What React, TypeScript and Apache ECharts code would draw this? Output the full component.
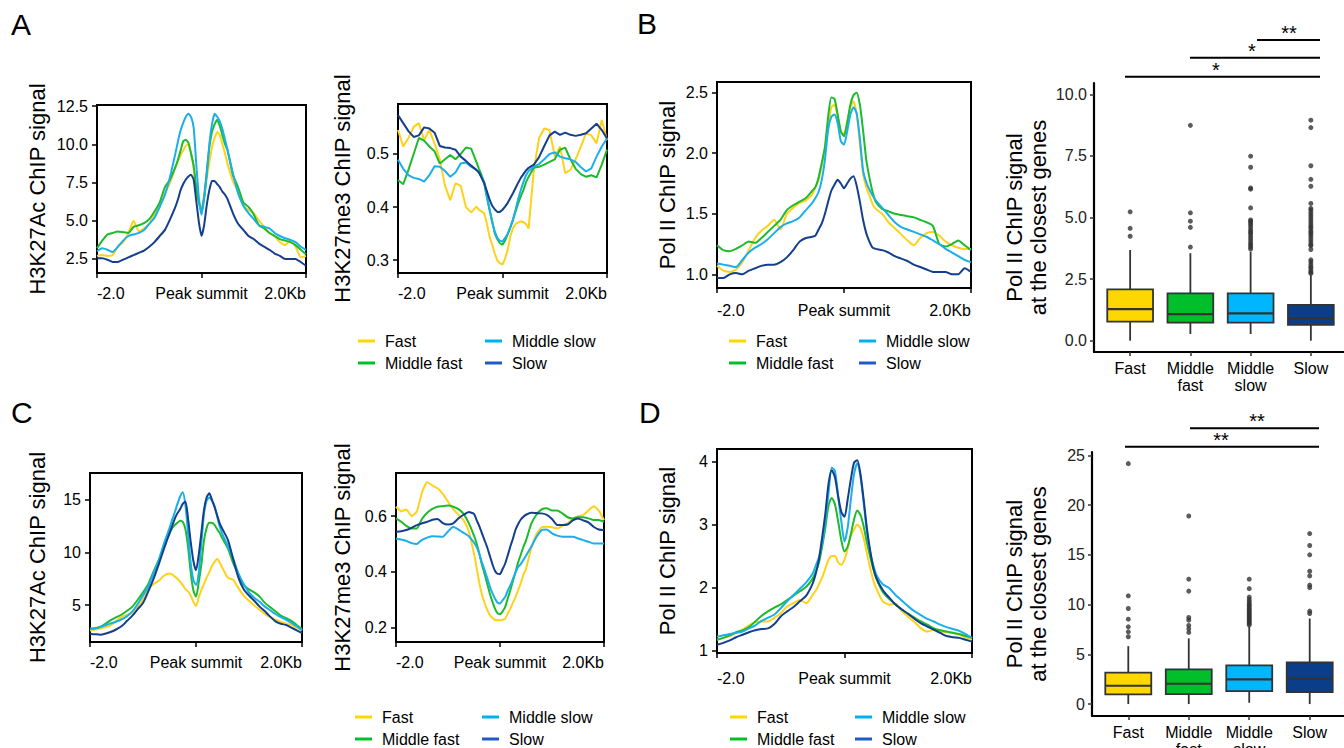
import React, { useEffect, useRef } from 'react';
import * as echarts from 'echarts';

const FONT = '"Liberation Sans", Arial, Helvetica, sans-serif';

const GROUPS = ['Fast', 'Middle fast', 'Middle slow', 'Slow'];
const LINE_COLORS = ['#FFD21A', '#1DBB2C', '#1AAFEA', '#143F8C'];
const LEGEND_COLORS = ['#FFD700', '#00C02A', '#00B0F0', '#1F5BC8'];
const BOX_COLORS = ['#FFD700', '#00BF2B', '#00B7FF', '#0A3D8A'];
const BOX_LABELS = ['Fast', 'Middle\nfast', 'Middle\nslow', 'Slow'];

// distance from peak summit (kb)
const POS_KB = [-2.0, -1.9, -1.8, -1.7, -1.6, -1.5, -1.4, -1.3, -1.2, -1.1, -1.0, -0.9, -0.8, -0.7, -0.6,
  -0.5, -0.45, -0.4, -0.35, -0.3, -0.25, -0.2, -0.15, -0.1, -0.05, 0, 0.05, 0.1, 0.15, 0.2, 0.25, 0.3, 0.35, 0.4, 0.45, 0.5,
  0.6, 0.7, 0.8, 0.9, 1.0, 1.1, 1.2, 1.3, 1.4, 1.5, 1.6, 1.7, 1.8, 1.9, 2.0];

// Panel A: H3K27Ac
const A_AC_FAST = [2.7, 2.75, 2.7, 2.75, 3.3, 3.6, 4.2, 5.0, 4.3, 4.5, 4.8, 5.4, 6.0, 6.8, 7.5,
  8.5, 8.9, 9.3, 9.6, 9.9, 10.0, 9.4, 8.4, 7.0, 6.2, 5.8, 6.5, 7.8, 8.8, 9.8, 10.4, 10.8, 10.6, 10.0, 9.4, 8.7,
  7.6, 6.9, 6.0, 5.7, 5.5, 5.0, 4.6, 4.2, 4.0, 3.6, 3.4, 3.75, 3.3, 2.6, 2.7];
const A_AC_MFAST = [3.2, 3.7, 4.1, 4.2, 4.3, 4.25, 4.2, 4.6, 4.7, 4.85, 5.1, 5.6, 6.2, 7.2, 7.7,
  8.5, 9.0, 9.6, 10.2, 10.3, 10.1, 9.4, 8.6, 7.2, 6.2, 5.6, 6.6, 8.2, 9.8, 10.8, 11.3, 11.6, 11.2, 10.6, 10.0, 9.6,
  8.0, 7.2, 6.2, 5.9, 5.4, 4.7, 4.5, 4.2, 4.0, 3.8, 3.7, 3.6, 3.4, 3.1, 2.8];
const A_AC_MSLOW = [3.0, 3.2, 3.1, 2.95, 3.3, 3.7, 4.0, 4.1, 4.2, 4.4, 4.8, 5.2, 5.9, 6.7, 7.9,
  9.4, 10.2, 10.9, 11.4, 11.8, 12.0, 11.8, 11.1, 8.7, 6.5, 5.4, 6.4, 8.0, 10.0, 11.3, 12.0, 11.8, 11.5, 11.0, 10.3, 9.6,
  8.1, 6.8, 6.0, 5.5, 5.1, 4.7, 4.6, 4.5, 4.2, 4.0, 3.85, 3.75, 3.6, 3.3, 3.1];
const A_AC_SLOW = [2.55, 2.55, 2.45, 2.3, 2.3, 2.45, 2.6, 2.75, 2.9, 3.05, 3.3, 3.6, 4.0, 4.4, 5.1,
  5.9, 6.4, 7.0, 7.4, 7.7, 7.9, 8.0, 7.7, 6.3, 4.9, 4.0, 4.7, 6.0, 7.0, 7.6, 7.6, 7.4, 7.2, 6.9, 6.7, 6.4,
  5.5, 4.8, 4.4, 4.0, 3.8, 3.5, 3.3, 3.1, 2.85, 2.7, 2.5, 2.5, 2.5, 2.3, 2.05];

// Panel A: H3K27me3
const A_ME3_FAST = [0.545, 0.514, 0.53, 0.551, 0.558, 0.526, 0.545, 0.52, 0.49, 0.44, 0.413, 0.445, 0.44, 0.4, 0.39,
  0.401, 0.395, 0.392, 0.388, 0.37, 0.345, 0.33, 0.313, 0.3, 0.294, 0.292, 0.303, 0.32, 0.345, 0.36, 0.368, 0.371, 0.373, 0.372, 0.368, 0.36,
  0.47, 0.53, 0.548, 0.545, 0.495, 0.514, 0.464, 0.47, 0.49, 0.514, 0.539, 0.535, 0.52, 0.564, 0.526];
const A_ME3_MFAST = [0.451, 0.443, 0.47, 0.5, 0.53, 0.525, 0.514, 0.505, 0.482, 0.49, 0.498, 0.49, 0.5, 0.512, 0.51,
  0.485, 0.472, 0.46, 0.445, 0.42, 0.395, 0.375, 0.351, 0.34, 0.332, 0.329, 0.337, 0.349, 0.362, 0.376, 0.392, 0.407, 0.42, 0.432, 0.447, 0.457,
  0.474, 0.476, 0.48, 0.485, 0.49, 0.508, 0.512, 0.49, 0.472, 0.462, 0.457, 0.46, 0.456, 0.48, 0.508];
const A_ME3_MSLOW = [0.489, 0.472, 0.46, 0.455, 0.453, 0.448, 0.46, 0.477, 0.476, 0.468, 0.457, 0.465, 0.482, 0.484, 0.476,
  0.47, 0.465, 0.457, 0.447, 0.42, 0.398, 0.372, 0.355, 0.342, 0.337, 0.335, 0.342, 0.35, 0.362, 0.376, 0.395, 0.415, 0.432, 0.447, 0.46, 0.468,
  0.476, 0.481, 0.49, 0.5, 0.503, 0.495, 0.492, 0.49, 0.485, 0.475, 0.467, 0.473, 0.495, 0.514, 0.529];
const A_ME3_SLOW = [0.573, 0.558, 0.543, 0.532, 0.535, 0.55, 0.548, 0.54, 0.515, 0.512, 0.511, 0.508, 0.495, 0.487, 0.478,
  0.47, 0.465, 0.455, 0.445, 0.43, 0.415, 0.403, 0.396, 0.391, 0.391, 0.395, 0.401, 0.408, 0.417, 0.426, 0.436, 0.446, 0.455, 0.462, 0.469, 0.474,
  0.48, 0.494, 0.515, 0.535, 0.542, 0.536, 0.54, 0.536, 0.534, 0.536, 0.539, 0.548, 0.557, 0.545, 0.529];

// Panel B: Pol II
const B_POL_FAST = [1.07, 1.03, 1.02, 1.04, 1.1, 1.2, 1.3, 1.36, 1.4, 1.45, 1.37, 1.5, 1.55, 1.59, 1.61,
  1.66, 1.72, 1.78, 1.9, 2.05, 2.22, 2.38, 2.4, 2.3, 2.18, 2.16, 2.26, 2.38, 2.43, 2.32, 2.08, 1.83, 1.72, 1.65, 1.58, 1.54,
  1.5, 1.43, 1.38, 1.33, 1.28, 1.24, 1.3, 1.34, 1.35, 1.32, 1.27, 1.24, 1.22, 1.21, 1.21];
const B_POL_MFAST = [1.24, 1.2, 1.19, 1.21, 1.24, 1.27, 1.26, 1.3, 1.35, 1.4, 1.45, 1.53, 1.57, 1.6, 1.63,
  1.69, 1.72, 1.8, 1.92, 2.05, 2.3, 2.46, 2.45, 2.32, 2.18, 2.14, 2.25, 2.4, 2.48, 2.5, 2.4, 2.19, 1.95, 1.8, 1.68, 1.6,
  1.54, 1.52, 1.5, 1.49, 1.48, 1.47, 1.45, 1.43, 1.4, 1.25, 1.23, 1.25, 1.28, 1.24, 1.2];
const B_POL_MSLOW = [1.09, 1.08, 1.07, 1.06, 1.12, 1.18, 1.22, 1.25, 1.29, 1.34, 1.39, 1.42, 1.44, 1.47, 1.53,
  1.59, 1.63, 1.68, 1.78, 1.95, 2.19, 2.3, 2.32, 2.25, 2.1, 2.07, 2.18, 2.32, 2.38, 2.33, 2.12, 1.86, 1.76, 1.7, 1.65, 1.61,
  1.55, 1.49, 1.43, 1.39, 1.37, 1.35, 1.33, 1.31, 1.28, 1.25, 1.21, 1.18, 1.15, 1.12, 1.1];
const B_POL_SLOW = [0.97, 0.97, 1.0, 1.01, 1.0, 1.03, 1.05, 1.07, 1.08, 1.08, 1.1, 1.14, 1.2, 1.27, 1.3,
  1.31, 1.32, 1.37, 1.42, 1.5, 1.6, 1.69, 1.74, 1.78, 1.75, 1.71, 1.75, 1.79, 1.81, 1.73, 1.6, 1.45, 1.34, 1.27, 1.22, 1.21,
  1.2, 1.18, 1.15, 1.13, 1.11, 1.08, 1.06, 1.04, 1.02, 1.02, 1.02, 1.0, 1.0, 1.05, 1.02];

// Panel B: box plot summaries [lower whisker, Q1, median, Q3, upper whisker]
const B_BOX_STATS = [
  [0, 0.77, 1.28, 2.08, 3.68],
  [0.27, 0.73, 1.08, 1.92, 3.55],
  [0.27, 0.73, 1.11, 1.92, 3.61],
  [0, 0.64, 0.91, 1.45, 2.66],
];
const B_OUT_FAST = [5.23, 4.56, 4.24];
const B_OUT_MFAST = [8.74, 5.19, 4.85, 4.6, 3.8];
const B_OUT_MSLOW = [7.49, 7.04, 6.2, 6.15, 5.39, 4.9, 4.85, 4.78, 4.7, 4.6, 4.5, 4.42, 4.35, 4.25, 4.15, 4.05, 3.95, 3.88, 3.8, 3.72];
const B_OUT_SLOW = [8.95, 8.65, 7.1, 6.55, 6.27, 5.57, 5.37, 5.3, 5.2, 5.1, 5.0, 4.9, 4.8, 4.7, 4.62, 4.55, 4.45, 4.38, 4.3, 4.2,
  4.1, 4.0, 3.9, 3.85, 3.7, 3.28, 3.2, 3.1, 3.0, 2.95, 2.85, 2.78, 2.73];
const B_BOX_TICKS = [0, 2.5, 5, 7.5, 10];

// Panel C: H3K27Ac
const C_AC_FAST = [2.59, 2.68, 2.76, 2.9, 3.1, 3.5, 3.9, 4.05, 4.3, 4.8, 5.5, 6.5, 7.0, 7.3, 7.8,
  8.0, 7.9, 7.7, 7.5, 7.2, 6.9, 6.5, 6.3, 5.9, 5.3, 4.9, 5.7, 6.4, 7.0, 7.6, 8.1, 8.7, 9.1, 9.4, 9.0, 8.5,
  7.6, 7.4, 6.6, 5.9, 5.4, 4.95, 4.55, 4.15, 3.85, 3.6, 3.4, 3.25, 3.1, 2.85, 2.59];
const C_AC_MFAST = [2.75, 2.8, 2.95, 3.25, 3.6, 3.85, 4.1, 4.45, 4.85, 5.5, 6.2, 7.0, 8.2, 9.3, 10.7,
  11.8, 12.3, 12.6, 12.8, 13.0, 12.9, 12.2, 10.5, 8.1, 6.4, 5.8, 7.1, 8.8, 11.1, 12.3, 12.8, 12.8, 12.6, 12.2, 11.8, 11.3,
  10.4, 9.0, 7.9, 6.9, 6.5, 6.2, 5.8, 5.2, 4.8, 4.4, 4.0, 3.75, 3.5, 3.1, 2.75];
const C_AC_MSLOW = [2.75, 2.8, 2.92, 3.1, 3.27, 3.43, 3.65, 3.95, 4.4, 5.1, 5.9, 6.8, 8.0, 9.3, 10.9,
  12.3, 13.1, 13.8, 14.6, 15.3, 15.7, 14.5, 11.8, 9.0, 7.4, 6.9, 8.0, 10.8, 13.6, 14.9, 15.2, 14.9, 14.4, 13.4, 12.4, 11.7,
  10.6, 9.4, 8.0, 7.0, 6.2, 5.7, 5.3, 4.85, 4.5, 4.15, 3.85, 3.6, 3.3, 3.0, 2.59];
const C_AC_SLOW = [2.28, 2.22, 2.18, 2.3, 2.46, 2.7, 3.0, 3.5, 4.0, 4.6, 5.2, 6.3, 7.5, 8.9, 10.4,
  11.8, 12.5, 13.2, 13.7, 14.1, 14.6, 14.8, 13.2, 11.0, 9.2, 8.3, 9.7, 11.8, 14.0, 15.2, 15.6, 15.0, 14.3, 13.5, 12.7, 12.2,
  11.2, 9.4, 7.6, 6.5, 5.9, 5.4, 4.85, 4.4, 3.9, 3.45, 3.22, 3.1, 2.85, 2.6, 2.34];

// Panel C: H3K27me3
const C_ME3_FAST = [0.634, 0.618, 0.624, 0.6, 0.616, 0.685, 0.723, 0.71, 0.7, 0.68, 0.652, 0.625, 0.605, 0.585, 0.545,
  0.465, 0.415, 0.362, 0.32, 0.29, 0.265, 0.246, 0.235, 0.228, 0.226, 0.226, 0.228, 0.232, 0.25, 0.268, 0.29, 0.31, 0.334, 0.36, 0.39, 0.41,
  0.485, 0.535, 0.56, 0.562, 0.56, 0.556, 0.565, 0.575, 0.59, 0.6, 0.604, 0.62, 0.636, 0.62, 0.586];
const C_ME3_MFAST = [0.592, 0.58, 0.565, 0.556, 0.556, 0.59, 0.612, 0.626, 0.634, 0.636, 0.638, 0.634, 0.625, 0.608, 0.575,
  0.53, 0.502, 0.468, 0.428, 0.395, 0.36, 0.325, 0.295, 0.27, 0.252, 0.248, 0.258, 0.274, 0.305, 0.335, 0.368, 0.4, 0.435, 0.462, 0.49, 0.512,
  0.572, 0.605, 0.624, 0.628, 0.62, 0.62, 0.61, 0.596, 0.592, 0.596, 0.596, 0.592, 0.586, 0.586, 0.58];
const C_ME3_MSLOW = [0.52, 0.516, 0.511, 0.503, 0.5, 0.515, 0.523, 0.528, 0.527, 0.526, 0.545, 0.562, 0.552, 0.54, 0.528,
  0.505, 0.49, 0.465, 0.435, 0.408, 0.38, 0.35, 0.325, 0.305, 0.29, 0.286, 0.298, 0.31, 0.333, 0.352, 0.375, 0.398, 0.418, 0.428, 0.443, 0.458,
  0.49, 0.525, 0.55, 0.552, 0.538, 0.53, 0.526, 0.526, 0.526, 0.52, 0.514, 0.508, 0.502, 0.502, 0.502];
const C_ME3_SLOW = [0.544, 0.546, 0.55, 0.558, 0.568, 0.574, 0.58, 0.587, 0.59, 0.575, 0.57, 0.574, 0.592, 0.605, 0.615,
  0.608, 0.586, 0.565, 0.54, 0.515, 0.49, 0.46, 0.43, 0.405, 0.393, 0.392, 0.41, 0.43, 0.46, 0.492, 0.52, 0.552, 0.572, 0.588, 0.598, 0.605,
  0.612, 0.611, 0.61, 0.605, 0.59, 0.568, 0.568, 0.57, 0.585, 0.592, 0.585, 0.578, 0.562, 0.552, 0.55];

// Panel D: Pol II
const D_POL_FAST = [1.17, 1.2, 1.23, 1.28, 1.33, 1.4, 1.45, 1.46, 1.46, 1.52, 1.59, 1.7, 1.75, 1.8, 1.75,
  1.88, 1.95, 2.05, 2.16, 2.3, 2.44, 2.5, 2.5, 2.4, 2.36, 2.44, 2.62, 2.82, 2.92, 3.0, 2.94, 2.78, 2.55, 2.32, 2.12, 1.98,
  1.78, 1.73, 1.74, 1.62, 1.53, 1.45, 1.35, 1.3, 1.33, 1.3, 1.29, 1.28, 1.25, 1.21, 1.17];
const D_POL_MFAST = [1.17, 1.2, 1.24, 1.29, 1.32, 1.37, 1.46, 1.55, 1.62, 1.68, 1.73, 1.8, 1.87, 1.94, 2.01,
  2.14, 2.25, 2.4, 2.65, 2.95, 3.3, 3.42, 3.32, 3.05, 2.75, 2.57, 2.65, 2.85, 3.08, 3.22, 3.15, 2.97, 2.72, 2.5, 2.3, 2.14,
  1.93, 1.82, 1.73, 1.65, 1.58, 1.52, 1.46, 1.41, 1.35, 1.32, 1.3, 1.28, 1.26, 1.23, 1.2];
const D_POL_MSLOW = [1.22, 1.24, 1.26, 1.28, 1.3, 1.35, 1.4, 1.47, 1.52, 1.57, 1.67, 1.78, 1.88, 1.98, 2.08,
  2.22, 2.35, 2.48, 2.7, 3.05, 3.5, 3.9, 3.85, 3.45, 3.05, 2.73, 2.95, 3.4, 3.8, 3.97, 3.76, 3.35, 2.9, 2.58, 2.36, 2.2,
  2.05, 1.99, 1.88, 1.79, 1.7, 1.62, 1.56, 1.5, 1.46, 1.41, 1.37, 1.34, 1.31, 1.26, 1.2];
const D_POL_SLOW = [1.09, 1.12, 1.16, 1.21, 1.25, 1.29, 1.32, 1.34, 1.35, 1.42, 1.54, 1.62, 1.69, 1.78, 1.87,
  2.06, 2.22, 2.45, 2.8, 3.18, 3.65, 3.86, 3.75, 3.45, 3.2, 3.12, 3.4, 3.72, 3.98, 4.02, 3.8, 3.4, 2.95, 2.6, 2.32, 2.15,
  1.96, 1.84, 1.73, 1.65, 1.58, 1.5, 1.43, 1.38, 1.33, 1.28, 1.23, 1.21, 1.2, 1.17, 1.14];

// Panel D: box plot summaries
const D_BOX_STATS = [
  [0, 0.97, 1.84, 3.15, 5.82],
  [0, 1.0, 2.04, 3.48, 6.6],
  [0.13, 1.3, 2.48, 3.88, 7.8],
  [0, 1.2, 2.55, 4.18, 8.6],
];
const D_OUT_FAST = [24.16, 10.88, 9.6, 8.53, 7.76, 7.26, 6.76];
const D_OUT_MFAST = [18.9, 12.55, 11.35, 8.7, 8.43, 7.9, 7.56, 7.2];
const D_OUT_MSLOW = [12.55, 11.6, 10.75, 10.5, 10.3, 10.1, 9.95, 9.8, 9.6, 9.45, 9.3, 9.15, 9.0, 8.85, 8.7, 8.55, 8.4, 8.25, 8.1, 7.95];
const D_OUT_SLOW = [17.13, 15.93, 15.0, 13.35, 12.88, 11.95, 11.7, 9.34, 9.1];
const D_BOX_TICKS = [0, 5, 10, 15, 20, 25];

const X_TICKS = ['-2.0', 'Peak summit', '2.0Kb'];

type LinePanel = {
  grid: number[]; yMin: number; yMax: number; ticks: number[]; dec: number;
  title: string; gap: number; xMargin: number; smooth: number; lines: number[][];
};

const LINE_PANELS: LinePanel[] = [
  { grid: [97, 105, 209, 168], yMin: 1.58, yMax: 12.57, ticks: [2.5, 5, 7.5, 10, 12.5], dec: 1, title: 'H3K27Ac ChIP signal', gap: 49, xMargin: 12, smooth: 0.15, lines: [A_AC_FAST, A_AC_MFAST, A_AC_MSLOW, A_AC_SLOW] },
  { grid: [398, 104, 209, 169], yMin: 0.276, yMax: 0.594, ticks: [0.3, 0.4, 0.5], dec: 1, title: 'H3K27me3 ChIP signal', gap: 45, xMargin: 12, smooth: 0, lines: [A_ME3_FAST, A_ME3_MFAST, A_ME3_MSLOW, A_ME3_SLOW] },
  { grid: [717, 82, 254, 206], yMin: 0.887, yMax: 2.588, ticks: [1, 1.5, 2, 2.5], dec: 1, title: 'Pol II ChIP signal', gap: 39, xMargin: 14, smooth: 0.2, lines: [B_POL_FAST, B_POL_MFAST, B_POL_MSLOW, B_POL_SLOW] },
  { grid: [90, 473, 212, 169], yMin: 1.49, yMax: 17.53, ticks: [5, 10, 15], dec: 0, title: 'H3K27Ac ChIP signal', gap: 42, xMargin: 12, smooth: 0.25, lines: [C_AC_FAST, C_AC_MFAST, C_AC_MSLOW, C_AC_SLOW] },
  { grid: [396, 473, 208, 169], yMin: 0.148, yMax: 0.755, ticks: [0.2, 0.4, 0.6], dec: 1, title: 'H3K27me3 ChIP signal', gap: 43, xMargin: 12, smooth: 0.15, lines: [C_ME3_FAST, C_ME3_MFAST, C_ME3_MSLOW, C_ME3_SLOW] },
  { grid: [717, 449, 255, 204], yMin: 0.96, yMax: 4.197, ticks: [1, 2, 3, 4], dec: 0, title: 'Pol II ChIP signal', gap: 39, xMargin: 17, smooth: 0.25, lines: [D_POL_FAST, D_POL_MFAST, D_POL_MSLOW, D_POL_SLOW] },
];

type BoxPanel = {
  grid: number[]; yMin: number; yMax: number; ticks: number[]; dec: number; gap: number;
  stats: number[][]; outliers: number[][];
};

const BOX_PANELS: BoxPanel[] = [
  { grid: [1094, 83, 253, 269], yMin: -0.46, yMax: 10.46, ticks: B_BOX_TICKS, dec: 1, gap: 44, stats: B_BOX_STATS, outliers: [B_OUT_FAST, B_OUT_MFAST, B_OUT_MSLOW, B_OUT_SLOW] },
  { grid: [1092, 452, 254, 264], yMin: -1.2, yMax: 25.33, ticks: D_BOX_TICKS, dec: 0, gap: 42, stats: D_BOX_STATS, outliers: [D_OUT_FAST, D_OUT_MFAST, D_OUT_MSLOW, D_OUT_SLOW] },
];

const LEGEND_SPOTS = [
  { left: [358, 485], top: 333 },
  { left: [729, 859], top: 333 },
  { left: [355, 482], top: 709 },
  { left: [730, 855], top: 709 },
];

function buildOption() {
  const grid: any[] = [];
  const xAxis: any[] = [];
  const yAxis: any[] = [];
  const series: any[] = [];
  const legend: any[] = [];

  LINE_PANELS.forEach((p) => {
    const gi = grid.length;
    grid.push({
      left: p.grid[0], top: p.grid[1], width: p.grid[2], height: p.grid[3],
      show: true, borderColor: '#000', borderWidth: 2, backgroundColor: 'transparent',
      containLabel: false, outerBoundsMode: 'none',
    });
    xAxis.push({
      type: 'value', gridIndex: gi, min: -2, max: 2, interval: 2, position: 'bottom',
      axisLine: { show: false, onZero: false },
      axisTick: { show: true, length: 5, lineStyle: { color: '#000', width: 1.5 } },
      splitLine: { show: false },
      axisLabel: {
        fontSize: 16, color: '#000', fontFamily: FONT, margin: p.xMargin,
        showMinLabel: true, showMaxLabel: true, alignMinLabel: 'left', alignMaxLabel: 'right',
        formatter: (v: number) => (v < 0 ? X_TICKS[0] : v > 0 ? X_TICKS[2] : X_TICKS[1]),
      },
    });
    yAxis.push({
      type: 'value', gridIndex: gi, min: p.yMin, max: p.yMax, position: 'left',
      axisLine: { show: false, onZero: false },
      axisTick: { show: true, length: 5, customValues: p.ticks, lineStyle: { color: '#000', width: 1.5 } },
      splitLine: { show: false },
      axisLabel: {
        fontSize: 16, color: '#000', fontFamily: FONT, margin: 9, customValues: p.ticks,
        formatter: (v: number) => v.toFixed(p.dec),
      },
      name: p.title, nameLocation: 'middle', nameGap: p.gap, nameRotate: 90, nameMoveOverlap: false,
      nameTextStyle: { fontSize: 22, color: '#000', fontFamily: FONT },
    });
    p.lines.forEach((arr, k) => {
      series.push({
        type: 'line', name: GROUPS[k], xAxisIndex: gi, yAxisIndex: gi,
        data: POS_KB.map((x, j) => [x, arr[j]]),
        showSymbol: false, symbol: 'none', smooth: p.smooth,
        lineStyle: { width: 2, color: LINE_COLORS[k] }, itemStyle: { color: LINE_COLORS[k] },
        z: 2 + k, silent: true,
      });
    });
  });

  BOX_PANELS.forEach((p) => {
    const gi = grid.length;
    grid.push({
      left: p.grid[0], top: p.grid[1], width: p.grid[2], height: p.grid[3],
      show: false, containLabel: false, outerBoundsMode: 'none',
    });
    xAxis.push({
      type: 'value', gridIndex: gi, min: 0.4, max: 4.6, position: 'bottom',
      axisLine: { show: true, onZero: false, lineStyle: { color: '#000', width: 2.2 } },
      axisTick: { show: true, length: 4, customValues: [1, 2, 3, 4], lineStyle: { color: '#333', width: 1.5 } },
      splitLine: { show: false },
      axisLabel: {
        fontSize: 16, color: '#000', fontFamily: FONT, margin: 8, lineHeight: 17, customValues: [1, 2, 3, 4],
        formatter: (v: number) => BOX_LABELS[Math.round(v) - 1],
      },
    });
    yAxis.push({
      type: 'value', gridIndex: gi, min: p.yMin, max: p.yMax, position: 'left',
      axisLine: { show: true, onZero: false, lineStyle: { color: '#000', width: 2.2 } },
      axisTick: { show: true, length: 4, customValues: p.ticks, lineStyle: { color: '#333', width: 1.5 } },
      splitLine: { show: false },
      axisLabel: {
        fontSize: 16, color: '#222', fontFamily: FONT, margin: 7, customValues: p.ticks,
        formatter: (v: number) => v.toFixed(p.dec),
      },
      name: 'Pol II ChIP signal\nat the closest genes', nameLocation: 'middle', nameGap: p.gap, nameRotate: 90,
      nameMoveOverlap: false,
      nameTextStyle: { fontSize: 22, lineHeight: 24, color: '#000', fontFamily: FONT, align: 'center' },
    });
    series.push({
      type: 'custom', xAxisIndex: gi, yAxisIndex: gi, silent: true, z: 3,
      data: p.stats.map((s, i) => [i + 1, ...s]),
      encode: { x: 0, y: [1, 2, 3, 4, 5] },
      renderItem: (params: any, api: any) => {
        const x = api.value(0);
        const lo = api.coord([x, api.value(1)]);
        const q1 = api.coord([x, api.value(2)]);
        const med = api.coord([x, api.value(3)]);
        const q3 = api.coord([x, api.value(4)]);
        const hi = api.coord([x, api.value(5)]);
        const w = api.size([0.76, 0])[0];
        const stroke = '#333';
        return {
          type: 'group',
          children: [
            { type: 'line', shape: { x1: lo[0], y1: lo[1], x2: q1[0], y2: q1[1] }, style: { stroke, lineWidth: 1.8 } },
            { type: 'line', shape: { x1: q3[0], y1: q3[1], x2: hi[0], y2: hi[1] }, style: { stroke, lineWidth: 1.8 } },
            { type: 'rect', shape: { x: q1[0] - w / 2, y: q3[1], width: w, height: q1[1] - q3[1] }, style: { fill: BOX_COLORS[params.dataIndex], stroke, lineWidth: 1.8 } },
            { type: 'line', shape: { x1: med[0] - w / 2, y1: med[1], x2: med[0] + w / 2, y2: med[1] }, style: { stroke, lineWidth: 2.2 } },
          ],
        };
      },
    });
    series.push({
      type: 'scatter', xAxisIndex: gi, yAxisIndex: gi, silent: true, z: 4,
      symbolSize: 5, itemStyle: { color: '#333' },
      data: p.outliers.flatMap((vals, i) => vals.map((v) => [i + 1, v])),
    });
  });

  LEGEND_SPOTS.forEach((s) => {
    [[0, 1], [2, 3]].forEach((pair, c) => {
      legend.push({
        orient: 'vertical', left: s.left[c], top: s.top, itemGap: 6, itemWidth: 17, itemHeight: 3,
        icon: 'rect', selectedMode: false, padding: 0,
        textStyle: { fontSize: 16, color: '#000', fontFamily: FONT, padding: [0, 0, 0, 5] },
        data: pair.map((k) => ({ name: GROUPS[k], itemStyle: { color: LEGEND_COLORS[k] } })),
      });
    });
  });

  const letter = (t: string, x: number, y: number) => ({
    type: 'text', left: x, top: y,
    style: { text: t, fontSize: 30, fontFamily: FONT, fill: '#000' },
  });
  const bracket = (x1: number, x2: number, y: number, stars: string, sx: number, sy: number) => [
    { type: 'line', shape: { x1, y1: y, x2, y2: y }, style: { stroke: '#000', lineWidth: 2 } },
    { type: 'text', x: sx, y: sy, style: { text: stars, fontSize: 20, fontFamily: FONT, fill: '#000', textAlign: 'center', textVerticalAlign: 'middle' } },
  ];

  const graphic: any[] = [
    letter('A', 11, 9),
    letter('B', 637, 8),
    letter('C', 11, 397),
    letter('D', 639, 397),
    ...bracket(1257, 1320, 40, '**', 1289, 33),
    ...bracket(1190, 1320, 57.7, '*', 1252, 51),
    ...bracket(1125, 1320, 76.7, '*', 1216, 69.5),
    ...bracket(1190, 1319, 428.3, '**', 1257, 421),
    ...bracket(1125, 1319, 446.7, '**', 1221, 439.5),
  ];

  return {
    animation: false,
    backgroundColor: '#fff',
    textStyle: { fontFamily: FONT },
    grid, xAxis, yAxis, series, legend, graphic,
  };
}

export default function App() {
  const ref = useRef<HTMLDivElement>(null);
  useEffect(() => {
    const chart = echarts.init(ref.current!, null, { renderer: 'svg' });
    chart.setOption(buildOption() as any);
    return () => chart.dispose();
  }, []);
  return (
    <div
      ref={ref}
      style={{ position: 'fixed', left: 0, top: 0, width: 1344, height: 748, background: '#fff' }}
    />
  );
}
